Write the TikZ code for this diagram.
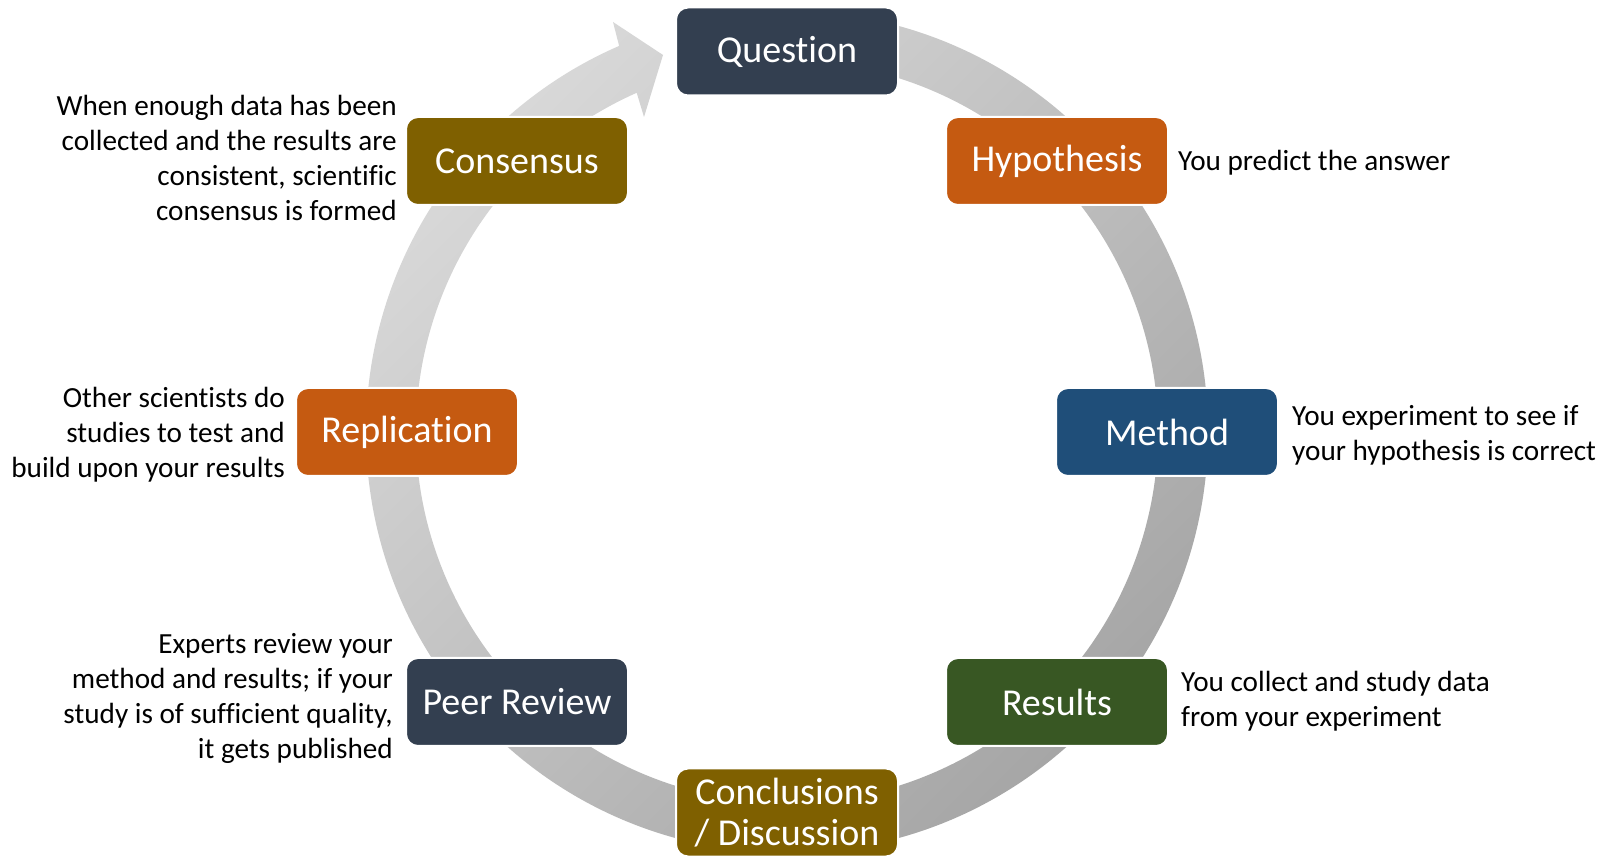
\documentclass[tikz,border=0pt]{standalone}
\usepackage{fontspec}
\setmainfont{Carlito}[Ligatures=NoCommon]
\definecolor{slate}{HTML}{333F50}
\definecolor{rust}{HTML}{C55A11}
\definecolor{navy}{HTML}{1F4E79}
\definecolor{moss}{HTML}{385723}
\definecolor{olive}{HTML}{7F6000}
\definecolor{ringlight}{HTML}{D8D8D8}
\definecolor{ringdark}{HTML}{A6A6A6}
\begin{document}
\begin{tikzpicture}[x=1pt,y=1pt,
  stage/.style={rectangle, rounded corners=12pt, draw=white, line width=2pt,
    minimum width=222pt, minimum height=88pt, inner sep=0pt, text=white,
    font=\fontsize{38}{41}\selectfont, align=center},
  note/.style={inner sep=0pt, text=black, font=\fontsize{29.2}{35}\selectfont}]
\useasboundingbox (0,0) rectangle (1608,867);
\fill[white] (0,0) rectangle (1608,867);
% ring arrow
\shade[top color=ringlight, bottom color=ringdark, shading angle=45]
  (787,856) arc[start angle=90, end angle=-246.5, radius=421]
  -- (613,845) -- (663,812) -- (644,750) -- (636.7,774.2)
  arc[start angle=-246.1, end angle=90, radius=371] -- cycle;
% stages
\node[stage, fill=slate] (q) at (787,815.5) {Question};
\node[stage, fill=rust]  (h) at (1057,706) {Hypothesis};
\node[stage, fill=navy]  (m) at (1167,435) {Method};
\node[stage, fill=moss]  (r) at (1057,165) {Results};
\node[stage, fill=olive] (c) at (787,54.5) {Conclusions\\/ Discussion};
\node[stage, fill=slate] (p) at (517,165) {Peer Review};
\node[stage, fill=rust]  (rep) at (407,435) {Replication};
\node[stage, fill=olive] (con) at (517,706) {Consensus};
% notes
\node[note, anchor=east, align=right] (ncon) at (397,709.5) {When enough data has been\\collected and the results are\\consistent, scientific\\consensus is formed};
\node[note, anchor=west, align=left] (nh) at (1178,704) {You predict the answer};
\node[note, anchor=west, align=left] (nm) at (1292,431.5) {You experiment to see if\\your hypothesis is correct};
\node[note, anchor=west, align=left] (nr) at (1181,166) {You collect and study data\\from your experiment};
\node[note, anchor=east, align=right] (nrep) at (285,432) {Other scientists do\\studies to test and\\build upon your results};
\node[note, anchor=east, align=right] (np) at (393,169) {Experts review your\\method and results; if your\\study is of sufficient quality,\\it gets published};
\end{tikzpicture}
\end{document}
